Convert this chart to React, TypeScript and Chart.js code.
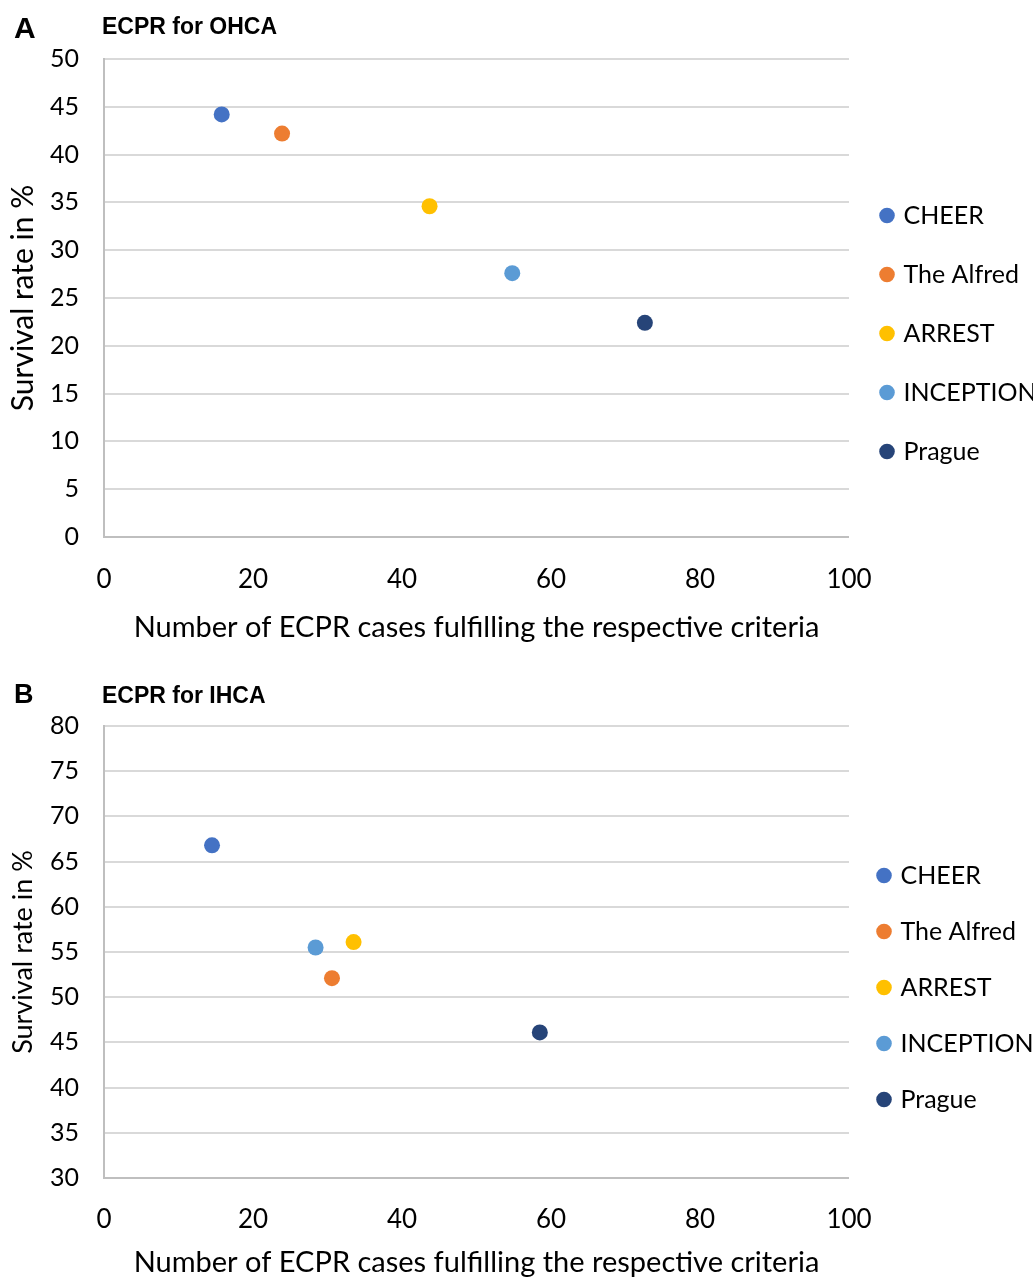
import React, { useEffect, useRef } from "react";
import { Chart, registerables } from "chart.js";

Chart.register(...registerables);

const studies = ["CHEER", "The Alfred", "ARREST", "INCEPTION", "Prague"];
const colors = ["#4472C4", "#ED7D31", "#FFC000", "#5B9BD5", "#264478"];

const ohcaCases = [15.8, 23.9, 43.7, 54.8, 72.6];
const ohcaSurvival = [44.2, 42.2, 34.6, 27.6, 22.4];

const ihcaCases = [14.5, 30.6, 33.5, 28.4, 58.5];
const ihcaSurvival = [66.8, 52.1, 56.1, 55.5, 46.1];

const xTitle = "Number of ECPR cases fulfilling the respective criteria";
const yTitle = "Survival rate in %";

const FONT = "Lato, 'Open Sans', sans-serif";

type PanelCfg = {
  width: number;
  height: number;
  areaTop: number;
  areaBottom: number;
  yMin: number;
  yMax: number;
  xs: number[];
  ys: number[];
  legendPad: number;
  legendTitleH: number;
  xTitlePadBottom: number;
  xTitleSize: number;
  yTitleSize: number;
  yTitlePad: number;
  xTickPad: number;
};

function ScatterPanel(props: { cfg: PanelCfg }) {
  const ref = useRef<HTMLCanvasElement | null>(null);
  const c = props.cfg;
  useEffect(() => {
    if (!ref.current) return;
    const datasets = studies.map((name, i) => ({
      label: name,
      data: [{ x: c.xs[i], y: c.ys[i] }],
      backgroundColor: colors[i],
      borderColor: colors[i],
      borderWidth: 0,
      pointRadius: 8,
      pointStyle: "circle",
    }));
    const chart = new Chart(ref.current, {
      type: "scatter",
      data: { datasets },
      options: {
        animation: false,
        responsive: false,
        layout: { padding: { top: c.areaTop, left: 0, right: 0, bottom: 0 } },
        plugins: {
          tooltip: { enabled: false },
          legend: {
            position: "right",
            align: "start",
            maxWidth: c.width - 849,
            title: {
              display: true,
              text: "",
              font: { size: 10, lineHeight: 1 },
              padding: { top: 0, bottom: c.legendTitleH - 10 },
            },
            labels: {
              usePointStyle: true,
              boxWidth: 8,
              boxHeight: 11,
              padding: c.legendPad,
              color: "#000000",
              font: { family: FONT, size: 25 },
            },
          },
        },
        scales: {
          x: {
            type: "linear",
            min: 0,
            max: 100,
            ticks: {
              stepSize: 20,
              padding: c.xTickPad,
              color: "#000000",
              font: { family: FONT, size: 26 },
            },
            grid: { display: false, drawTicks: false },
            border: { display: false },
            title: {
              display: true,
              text: xTitle,
              color: "#000000",
              font: { family: FONT, size: c.xTitleSize },
              padding: { top: 0, bottom: c.xTitlePadBottom },
            },
            afterFit: (s: any) => {
              s.height = c.height - c.areaBottom;
            },
          },
          y: {
            type: "linear",
            min: c.yMin,
            max: c.yMax,
            ticks: {
              stepSize: 5,
              padding: 25,
              color: "#000000",
              font: { family: FONT, size: 25 },
            },
            grid: {
              drawTicks: false,
              color: (ctx: any) => (ctx.tick && ctx.tick.value === c.yMin ? "#bfbfbf" : "#d9d9d9"),
              lineWidth: 2,
            },
            border: { display: true, color: "#bfbfbf", width: 2 },
            title: {
              display: true,
              text: yTitle,
              color: "#000000",
              font: { family: FONT, size: c.yTitleSize },
              padding: { top: c.yTitlePad, bottom: 0 },
            },
            afterFit: (s: any) => {
              s.width = 104;
            },
          },
        },
      },
    });
    return () => chart.destroy();
  }, []);
  return <canvas ref={ref} width={c.width} height={c.height} style={{ display: "block" }} />;
}

const labelStyle: React.CSSProperties = {
  position: "absolute",
  fontFamily: "'Liberation Sans', Arial, sans-serif",
  fontWeight: "bold",
  lineHeight: 1,
  color: "#000000",
  whiteSpace: "nowrap",
};

export default function App() {
  const panelA: PanelCfg = {
    width: 1033,
    height: 655,
    areaTop: 59,
    areaBottom: 537,
    yMin: 0,
    yMax: 50,
    xs: ohcaCases,
    ys: ohcaSurvival,
    legendPad: 34,
    legendTitleH: 110,
    xTitlePadBottom: 10,
    xTitleSize: 29,
    yTitleSize: 30,
    yTitlePad: 5,
    xTickPad: 27,
  };
  const panelB: PanelCfg = {
    width: 1033,
    height: 625,
    areaTop: 71,
    areaBottom: 523,
    yMin: 30,
    yMax: 80,
    xs: ihcaCases,
    ys: ihcaSurvival,
    legendPad: 31,
    legendTitleH: 106,
    xTitlePadBottom: 0,
    xTitleSize: 29,
    yTitleSize: 27,
    yTitlePad: 7,
    xTickPad: 26,
  };
  return (
    <div style={{ position: "absolute", left: 0, top: 0, width: 1033, height: 1280, background: "#ffffff", overflow: "hidden" }}>
      <div style={{ position: "absolute", left: 0, top: 0 }}>
        <ScatterPanel cfg={panelA} />
      </div>
      <div style={{ position: "absolute", left: 0, top: 655 }}>
        <ScatterPanel cfg={panelB} />
      </div>
      <span style={{ ...labelStyle, left: 14, top: 13, fontSize: 30 }}>A</span>
      <span style={{ ...labelStyle, left: 102, top: 15, fontSize: 23 }}>ECPR for OHCA</span>
      <span style={{ ...labelStyle, left: 14, top: 681, fontSize: 27 }}>B</span>
      <span style={{ ...labelStyle, left: 102, top: 684, fontSize: 23 }}>ECPR for IHCA</span>
    </div>
  );
}
